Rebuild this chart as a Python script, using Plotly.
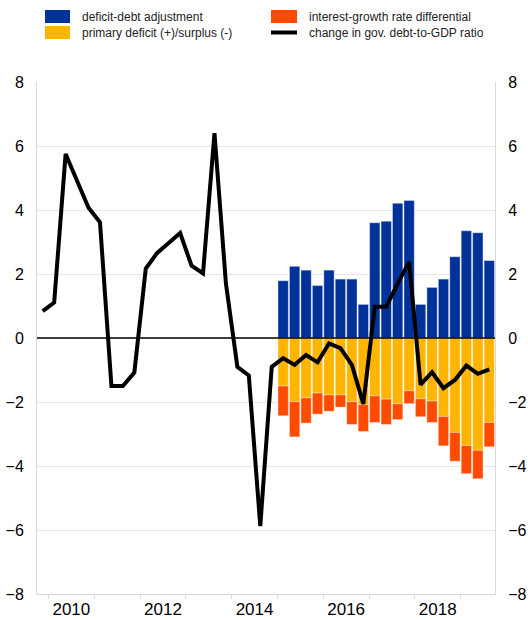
import plotly.graph_objects as go

# ---- data ----
line_quarters = [
    "2009Q4",
    "2010Q1", "2010Q2", "2010Q3", "2010Q4",
    "2011Q1", "2011Q2", "2011Q3", "2011Q4",
    "2012Q1", "2012Q2", "2012Q3", "2012Q4",
    "2013Q1", "2013Q2", "2013Q3", "2013Q4",
    "2014Q1", "2014Q2", "2014Q3", "2014Q4",
    "2015Q1", "2015Q2", "2015Q3", "2015Q4",
    "2016Q1", "2016Q2", "2016Q3", "2016Q4",
    "2017Q1", "2017Q2", "2017Q3", "2017Q4",
    "2018Q1", "2018Q2", "2018Q3", "2018Q4",
    "2019Q1", "2019Q2", "2019Q3",
]
debt_change = [
    0.84,
    1.11, 5.75, 4.90, 4.07,
    3.62, -1.50, -1.50, -1.08,
    2.17, 2.66, 2.97, 3.28,
    2.26, 2.02, 6.40, 1.70,
    -0.90, -1.17, -5.88, -0.90,
    -0.63, -0.84, -0.53, -0.76,
    -0.17, -0.32, -0.84, -2.06,
    0.98, 0.98, 1.70, 2.38,
    -1.46, -1.07, -1.57, -1.31,
    -0.86, -1.12, -0.98,
]
bar_quarters = line_quarters[21:]
deficit_debt_adj = [1.79, 2.24, 2.12, 1.64, 2.12, 1.84, 1.84, 1.05, 3.60, 3.65,
                    4.21, 4.30, 1.05, 1.58, 1.84, 2.54, 3.35, 3.29, 2.42]
primary_deficit = [-1.50, -1.99, -1.87, -1.72, -1.78, -1.78, -1.99, -2.08, -1.81, -1.91,
                   -2.06, -1.65, -1.90, -1.97, -2.45, -2.95, -3.36, -3.51, -2.64]
interest_growth = [-0.93, -1.10, -0.79, -0.66, -0.51, -0.38, -0.71, -0.84, -0.83, -0.79,
                   -0.49, -0.40, -0.56, -0.67, -0.92, -0.90, -0.88, -0.89, -0.76]
year_labels = ["2010", "2012", "2014", "2016", "2018"]
year_bounds = list(range(2010, 2020))
y_ticks = [-8, -6, -4, -2, 0, 2, 4, 6, 8]


def qpos(q):
    return int(q[:4]) + (int(q[-1]) - 0.5) / 4.0


x_line = [qpos(q) for q in line_quarters]
x_bar = [qpos(q) for q in bar_quarters]

BLUE = "#003299"
YELLOW = "#FFB400"
ORANGE = "#FF4B00"
FONT = "Arial, Liberation Sans, sans-serif"
EDGE = dict(width=0.6, color="rgba(255,255,255,0.6)")

fig = go.Figure()
fig.add_trace(go.Bar(x=x_bar, y=deficit_debt_adj, name="deficit-debt adjustment",
                     marker=dict(color=BLUE, line=EDGE), width=0.225))
fig.add_trace(go.Bar(x=x_bar, y=primary_deficit, name="primary deficit (+)/surplus (-)",
                     marker=dict(color=YELLOW, line=EDGE), width=0.225))
fig.add_trace(go.Bar(x=x_bar, y=interest_growth, name="interest-growth rate differential",
                     marker=dict(color=ORANGE, line=EDGE), width=0.225))
fig.add_trace(go.Scatter(x=x_line, y=debt_change, name="change in gov. debt-to-GDP ratio",
                         mode="lines", line=dict(color="black", width=4)))
# invisible trace to activate right axis
fig.add_trace(go.Scatter(x=[x_line[0]], y=[0], yaxis="y2", mode="markers",
                         marker=dict(opacity=0), showlegend=False, hoverinfo="skip"))

fig.update_layout(
    width=528, height=620,
    margin=dict(l=37, r=33, t=82, b=26),
    paper_bgcolor="white", plot_bgcolor="white",
    barmode="relative",
    showlegend=False,
    font=dict(family=FONT, color="black"),
    xaxis=dict(
        range=[2009.75, 2019.75], automargin=False,
        tickvals=[int(y) + 0.5 for y in year_labels],
        ticktext=year_labels,
        ticks="", showgrid=False, zeroline=False,
        showline=True, linecolor="#d9d9d9", linewidth=1,
        tickfont=dict(size=17, family=FONT),
        minor=dict(tickvals=year_bounds, ticks="outside", ticklen=4,
                   tickcolor="#d9d9d9", showgrid=False),
    ),
    yaxis=dict(
        range=[-8, 8], tickvals=y_ticks, automargin=False,
        showgrid=True, gridcolor="#e6e6e6", gridwidth=1,
        zeroline=False,
        showline=True, linecolor="#d9d9d9", linewidth=1,
        ticks="outside", ticklen=9, tickcolor="rgba(0,0,0,0)",
        tickfont=dict(size=16, family=FONT),
    ),
    yaxis2=dict(
        range=[-8, 8], tickvals=y_ticks, overlaying="y", side="right", automargin=False,
        showgrid=False, zeroline=False,
        showline=True, linecolor="#d9d9d9", linewidth=1,
        ticks="outside", ticklen=9, tickcolor="rgba(0,0,0,0)",
        tickfont=dict(size=16, family=FONT),
    ),
)

# zero line above bars
fig.add_shape(type="line", xref="paper", yref="y", x0=0, x1=1, y0=0, y1=0,
              line=dict(color="black", width=1.5), layer="above")

# manual legend (paper coordinates derived from pixel layout)
def px_x(p):
    return (p - 37) / 458.0


def px_y(p):
    return (594 - p) / 512.0


leg_items = [
    ("rect", BLUE, 45, 70, 10, 23, "deficit-debt adjustment", 80),
    ("rect", YELLOW, 45, 70, 26, 39, "primary deficit (+)/surplus (-)", 80),
    ("rect", ORANGE, 271, 297, 10, 23, "interest-growth rate differential", 307),
    ("line", "black", 271, 297, 30.5, 34.5, "change in gov. debt-to-GDP ratio", 307),
]
for kind, col, x0, x1, y0, y1, label, tx in leg_items:
    if kind == "rect":
        fig.add_shape(type="rect", xref="paper", yref="paper",
                      x0=px_x(x0), x1=px_x(x1), y0=px_y(y1), y1=px_y(y0),
                      fillcolor=col, line=dict(width=0))
    else:
        fig.add_shape(type="line", xref="paper", yref="paper",
                      x0=px_x(x0), x1=px_x(x1), y0=px_y((y0 + y1) / 2), y1=px_y((y0 + y1) / 2),
                      line=dict(color=col, width=4))
    fig.add_annotation(xref="paper", yref="paper", x=px_x(tx), y=px_y((y0 + y1) / 2),
                       text=label, showarrow=False, xanchor="left", yanchor="middle",
                       font=dict(size=12, family=FONT, color="#222222"))

fig.write_html(
    "out.html",
    config={"displayModeBar": False},
    post_script="document.body.style.margin='0';document.body.style.padding='0';"
                "document.body.style.overflow='hidden';",
)
